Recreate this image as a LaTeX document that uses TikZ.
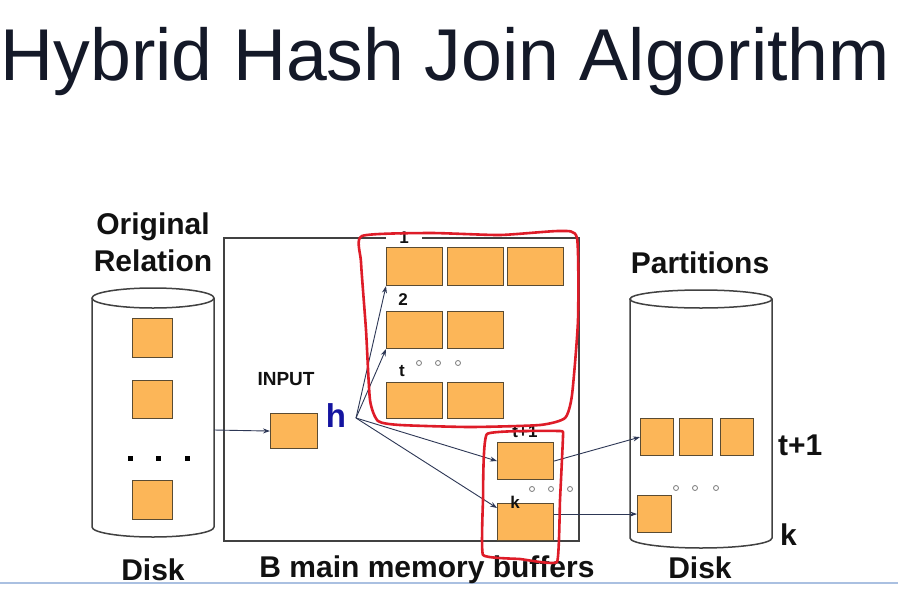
\documentclass[tikz,border=0pt]{standalone}
\usepackage{fontspec}
\setmainfont{Liberation Sans}
\usetikzlibrary{arrows.meta}
\definecolor{buffill}{RGB}{252,182,88}
\definecolor{bufedge}{RGB}{90,75,50}
\definecolor{txt}{RGB}{17,17,17}
\definecolor{titlecol}{RGB}{20,25,40}
\definecolor{conncol}{RGB}{45,55,85}
\definecolor{diskcol}{RGB}{65,65,65}
\definecolor{handred}{RGB}{222,28,40}
\definecolor{dotcol}{RGB}{120,120,120}
\definecolor{hblue}{RGB}{20,20,160}
\definecolor{ruleblue}{RGB}{170,192,225}
\begin{document}
\begin{tikzpicture}[x=1pt,y=-1pt,
 buf/.style={draw=bufedge, fill=buffill, line width=1.1pt, inner sep=0pt, anchor=north west},
 lbl/.style={font=\fontsize{30}{32}\selectfont\bfseries, text=txt, inner sep=0pt, anchor=base},
 small/.style={font=\fontsize{17}{18}\selectfont\bfseries, text=txt, inner sep=0pt, anchor=base},
 conn/.style={draw=conncol, line width=0.9pt, -{Stealth[length=7pt,width=5pt]}},
 disk/.style={draw=diskcol, line width=1.5pt},
 hand/.style={draw=handred, line width=2.6pt, line join=round},
 odot/.style={circle, draw=dotcol, line width=0.8pt, inner sep=0pt, minimum size=5pt},
 sqdot/.style={fill=black, inner sep=0pt, minimum size=5pt},
]
\fill[white] (0,0) rectangle (898,592);
\useasboundingbox (0,0) rectangle (898,592);

% title
\node[anchor=base west, inner sep=0pt, font=\fontsize{73.4}{80}\selectfont, text=titlecol] (title) at (0.5,80) {Hybrid Hash Join Algorithm};

% bottom rule
\draw[ruleblue, line width=1.5pt] (0,583) -- (898,583);

% left disk
\draw[disk] (92,298) -- (92,527) arc[start angle=180, end angle=360, x radius=61pt, y radius=10pt] -- (214,298);
\draw[disk] (153,298) ellipse [x radius=61pt, y radius=10pt];
\coordinate (ldisk) at (214,430);
\node[buf, minimum width=40pt, minimum height=39pt] (ls1) at (132,318) {};
\node[buf, minimum width=40pt, minimum height=38pt] (ls2) at (132,380) {};
\node[buf, minimum width=40pt, minimum height=39pt] (ls3) at (132,480) {};
\node[sqdot] (d1) at (130,458) {};
\node[sqdot] (d2) at (158,458) {};
\node[sqdot] (d3) at (187,458) {};
\node[lbl] (orig) at (153,234) {Original};
\node[lbl] (rel) at (153,271) {Relation};
\node[lbl] (ldisklbl) at (153,580) {Disk};

% memory box
\node[draw=diskcol, line width=1.5pt, anchor=north west, minimum width=355pt, minimum height=303pt, inner sep=0pt] (mem) at (223,237) {};
\node[small, fill=white, anchor=center, minimum width=36pt, minimum height=10pt] (l1) at (404,238) {1};

% buffers
\node[buf, minimum width=47pt, minimum height=35pt] (inp) at (270,413) {};
\node[buf, minimum width=56pt, minimum height=38pt] (r11) at (386,247) {};
\node[buf, minimum width=56pt, minimum height=38pt] (r12) at (447,247) {};
\node[buf, minimum width=56pt, minimum height=38pt] (r13) at (507,247) {};
\node[buf, minimum width=56pt, minimum height=37pt] (r21) at (386,311) {};
\node[buf, minimum width=56pt, minimum height=37pt] (r22) at (447,311) {};
\node[buf, minimum width=56pt, minimum height=36pt] (r31) at (386,382) {};
\node[buf, minimum width=56pt, minimum height=36pt] (r32) at (447,382) {};
\node[buf, minimum width=56pt, minimum height=37pt] (tp1) at (497,442) {};
\node[buf, minimum width=56pt, minimum height=37pt] (kb) at (497,503) {};

\node[small] (l2) at (403,305) {2};
\node[small] (lt) at (402,376) {t};
\node[odot] (t1) at (419,363) {};
\node[odot] (t2) at (438,363) {};
\node[odot] (t3) at (458,363) {};
\node[small] (ltp1) at (525,437) {t+1};
\node[small] (lk) at (515,508) {k};
\node[odot] (k1) at (532,489) {};
\node[odot] (k2) at (551,489) {};
\node[odot] (k3) at (570,489) {};

\node[font=\fontsize{19}{20}\selectfont\bfseries, text=txt, inner sep=0pt, anchor=base] (inlbl) at (286,385) {INPUT};
\node[font=\fontsize{33}{34}\selectfont\bfseries, text=hblue, inner sep=0pt, anchor=base] (h) at (336,427) {h};
\coordinate (hp) at (356,418);

\node[lbl] (mlbl) at (427,577) {B main memory buffers};

% right disk
\draw[disk] (630,299) -- (630,538) arc[start angle=180, end angle=360, x radius=71pt, y radius=10pt] -- (772,299);
\draw[disk] (701,299) ellipse [x radius=71pt, y radius=9pt];
\node[buf, minimum width=33pt, minimum height=37pt] (p1) at (640,418) {};
\node[buf, minimum width=33pt, minimum height=37pt] (p2) at (679,418) {};
\node[buf, minimum width=33pt, minimum height=37pt] (p3) at (720,418) {};
\node[buf, minimum width=34pt, minimum height=37pt] (pk) at (637,495) {};
\node[odot] (pd1) at (676,488) {};
\node[odot] (pd2) at (695,488) {};
\node[odot] (pd3) at (716,488) {};
\node[lbl] (part) at (700,273) {Partitions};
\node[lbl] (rdisk) at (700,578) {Disk};
\node[lbl, anchor=base west] (rt1) at (778,455) {t+1};
\node[lbl, anchor=base west] (rk) at (780,545) {k};

% connectors
\draw[conn] (ldisk) -- (inp.west);
\draw[conn] (hp) -- (r11.south west);
\draw[conn] (hp) -- (r21.south west);
\draw[conn] (hp) -- (tp1.west);
\draw[conn] (hp) -- ([yshift=-5pt]kb.north west);
\draw[conn] (tp1.east) -- (p1.west);
\draw[conn] (kb.east |- pk.west) -- (pk.west);

% hand-drawn red outlines
\draw[hand] plot[smooth cycle, tension=0.35] coordinates {(362,236) (430,233) (500,235) (560,231) (577,238) (578,320) (572,395) (565,418) (540,425) (470,427) (400,425) (378,421) (370,400) (366,330) (361,262)};
\draw[hand] plot[smooth cycle, tension=0.2] coordinates {(487,434) (560,431) (563,436) (560,500) (557,562) (520,559) (483,555) (483,500)};
\end{tikzpicture}
\end{document}
